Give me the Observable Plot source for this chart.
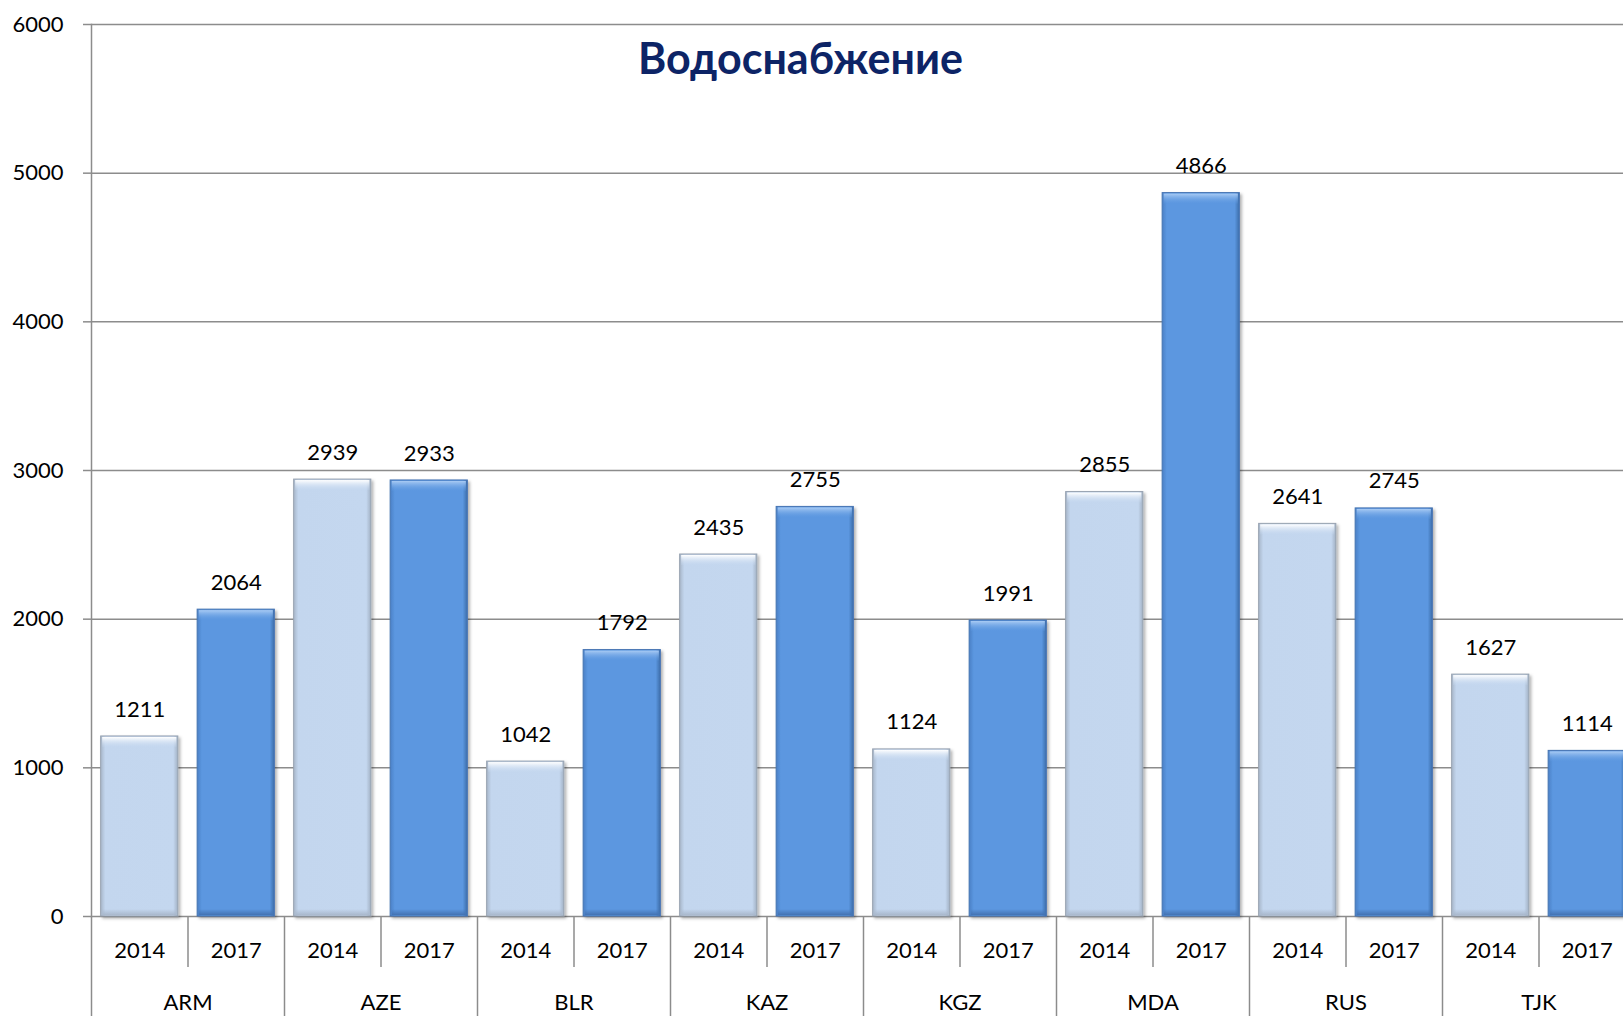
<!DOCTYPE html>
<html><head><meta charset="utf-8">
<script src="https://cdn.jsdelivr.net/npm/d3@7"></script>
<script src="https://cdn.jsdelivr.net/npm/@observablehq/plot@0.6"></script>
<style>html,body{margin:0;padding:0;overflow:hidden;background:#fff}#chart svg{display:block;max-width:none !important;height:1016px !important}</style>
</head><body><div id="chart"></div>
<script>
const title = "Водоснабжение";
const countries = ["ARM","AZE","BLR","KAZ","KGZ","MDA","RUS","TJK"];
const years = ["2014","2017"];
const values2014 = [1211,2939,1042,2435,1124,2855,2641,1627];
const values2017 = [2064,2933,1792,2755,1991,4866,2745,1114];
const yTicks = [0,1000,2000,3000,4000,5000,6000];

const data = countries.flatMap((c,i)=>[
  {country:c, year:years[0], key:c+" "+years[0], value: values2014[i]},
  {country:c, year:years[1], key:c+" "+years[1], value: values2017[i]}
]);
const keys = data.map(d=>d.key);
const light = data.filter(d=>d.year===years[0]);
const dark = data.filter(d=>d.year===years[1]);

const W = 1644, H = 1016, mL = 91, mR = 9, mT = 24, mB = 100;
const step = (W - mL - mR)/keys.length;
const frameH = H - mT - mB;
const font = "Lato, 'Open Sans', sans-serif";
const grid = "#8c8c8c";

const chart = Plot.plot({
  width: W, height: H, marginLeft: mL, marginRight: mR, marginTop: mT, marginBottom: mB,
  style: {fontFamily: font, fontSize: "22px", color: "#000", background: "#fff", overflow: "hidden"},
  x: {domain: keys, paddingInner: 0.2, paddingOuter: 0.1, round: false, axis: null},
  y: {domain: [0,6000], axis: null},
  marks: [
    Plot.gridY(yTicks, {stroke: grid, strokeOpacity: 1, strokeWidth: 1.5}),
    Plot.axisY(yTicks, {tickSize: 8, tickPadding: 20, stroke: grid, strokeWidth: 1.5, strokeOpacity: 1, fill: "#000", fontSize: 22, tickFormat: "d", label: null}),
    Plot.frame({anchor: "left", stroke: grid, strokeWidth: 1.5}),
    Plot.barY(light, {x: "key", y: "value", fill: "url(#gLight)", stroke: "#98a3b1", strokeWidth: 1}),
    Plot.barY(dark, {x: "key", y: "value", fill: "url(#gDark)", stroke: "#4674b3", strokeWidth: 1}),
    Plot.barY(light, {x: "key", y1: "value", y2: "value", insetBottom: -11, insetLeft: 1.5, insetRight: 1.5, insetTop: 1, fill: "url(#tLight)"}),
    Plot.barY(dark, {x: "key", y1: "value", y2: "value", insetBottom: -11, insetLeft: 1.5, insetRight: 1.5, insetTop: 1, fill: "url(#tDark)"}),
    Plot.barY(light, {x: "key", y1: d => 0, y2: d => 0, insetTop: -7, insetLeft: 1.5, insetRight: 1.5, insetBottom: 1, fill: "url(#bLight)"}),
    Plot.barY(dark, {x: "key", y1: d => 0, y2: d => 0, insetTop: -7, insetLeft: 1.5, insetRight: 1.5, insetBottom: 1, fill: "url(#bDark)"}),
    Plot.text(data, {x: "key", y: "value", text: d => String(d.value), dy: -27, fontSize: 22, fill: "#000"}),
    Plot.text(data, {x: "key", text: "year", frameAnchor: "bottom", lineAnchor: "middle", dy: 34, fontSize: 22, fill: "#000"}),
    Plot.text(light, {x: "key", text: "country", frameAnchor: "bottom", lineAnchor: "middle", dy: 86, dx: step/2, fontSize: 22, fill: "#000"}),
    Plot.ruleX(light, {x: "key", dx: -step/2, stroke: grid, strokeWidth: 1.5, insetTop: frameH, insetBottom: -mB}),
    Plot.ruleX(dark, {x: "key", dx: -step/2, stroke: grid, strokeWidth: 1.5, insetTop: frameH, insetBottom: -51}),
    Plot.text([title], {text: d => d, frameAnchor: "top", lineAnchor: "middle", dx: -63, dy: 36, fontSize: 43, fontWeight: "bold", fill: "#0d2466"})
  ]
});
document.getElementById("chart").appendChild(chart);

const svg = chart.tagName.toLowerCase() === "svg" ? chart : chart.querySelector("svg");
const defs = d3.select(svg).insert("defs", ":first-child");
function grad(id, vertical, stops) {
  const g = defs.append("linearGradient").attr("id", id)
    .attr("x1", 0).attr("y1", 0).attr("x2", vertical ? 0 : 1).attr("y2", vertical ? 1 : 0);
  for (const [o, c, op] of stops) g.append("stop").attr("offset", o).attr("stop-color", c).attr("stop-opacity", op ?? 1);
}
grad("gLight", false, [["0%","#a7b6c9"],["6%","#c3d6ee"],["94%","#c4d7ef"],["100%","#a2b1c4"]]);
grad("gDark", false, [["0%","#4b80c6"],["6%","#5b97e0"],["94%","#5b97e0"],["100%","#3e6da9"]]);
grad("tLight", true, [["0%","#ffffff"],["100%","#c4d7ef", 0.2]]);
grad("tDark", true, [["0%","#a9cbf4"],["100%","#5b97e0", 0.2]]);
grad("bLight", true, [["0%","#a9b8cc", 0],["100%","#a9b8cc"]]);
grad("bDark", true, [["0%","#4473b3", 0],["100%","#4473b3"]]);
const f = defs.append("filter").attr("id", "shadow").attr("x", "-10%").attr("y", "-10%").attr("width", "130%").attr("height", "130%");
f.append("feDropShadow").attr("dx", 2).attr("dy", 2).attr("stdDeviation", 1.5).attr("flood-color", "#000").attr("flood-opacity", 0.3);
const barGroups = svg.querySelectorAll('g[aria-label="bar"]');
if (barGroups[0]) barGroups[0].setAttribute("filter", "url(#shadow)");
if (barGroups[1]) barGroups[1].setAttribute("filter", "url(#shadow)");
</script></body></html>
